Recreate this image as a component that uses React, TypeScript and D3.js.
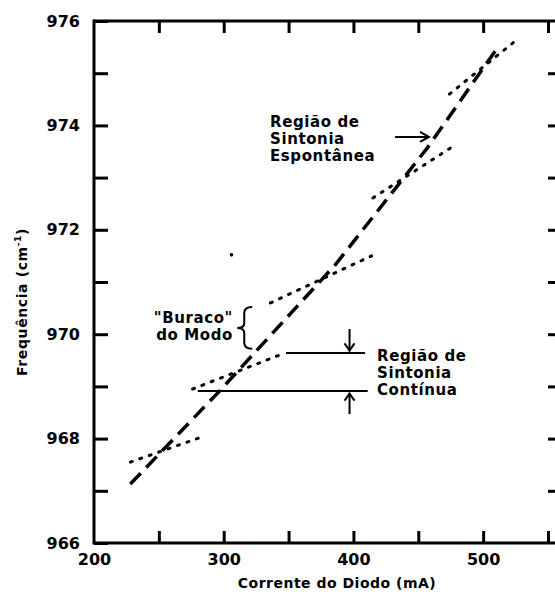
import React, { useRef, useEffect } from 'react'
import * as d3 from 'd3'

// main tuning curve (dashed)
const dashedCurrent = [228, 296, 386, 457, 512]
const dashedFreq = [967.13, 968.89, 971.33, 973.57, 975.52]

// laser modes (dotted segments)
const modeStartCurrent = [228, 276, 336, 415, 474]
const modeEndCurrent = [283, 345, 414, 475, 526]
const modeStartFreq = [967.55, 968.95, 970.6, 972.61, 974.6]
const modeEndFreq = [968.03, 969.62, 971.5, 973.57, 975.64]

// lone point in the scan
const strayCurrent = [306]
const strayFreq = [971.52]

const xTicks = [200, 250, 300, 350, 400, 450, 500, 550]
const xLabels = [200, 300, 400, 500]
const yTicks = [966, 967, 968, 969, 970, 971, 972, 973, 974, 975, 976]
const yLabels = [966, 968, 970, 972, 974, 976]

const W = 555
const H = 592
const FONT = '"DejaVu Sans", Verdana, sans-serif'

const App = () => {
    const svgRef = useRef<SVGSVGElement>(null)

    useEffect(() => {
        const svg = d3.select(svgRef.current)
        svg.selectAll('*').remove()

        const x = d3.scaleLinear().domain([200, 550]).range([94, 548])
        const y = d3.scaleLinear().domain([966, 976]).range([543, 21])

        //frame lines (left, top, bottom)
        const frame = svg.append('g').attr('stroke', '#000').attr('stroke-width', 3)
        frame.append('line').attr('x1', x(200)).attr('x2', x(200)).attr('y1', y(966) + 1.5).attr('y2', y(976) - 1.5)
        frame.append('line').attr('x1', x(200)).attr('x2', W).attr('y1', y(976)).attr('y2', y(976))
        frame.append('line').attr('x1', x(200)).attr('x2', W).attr('y1', y(966)).attr('y2', y(966))

        const styleAxis = (g) => {
            g.select('.domain').remove()
            g.selectAll('line').attr('stroke', '#000').attr('stroke-width', 3)
            g.selectAll('text')
                .style('font-family', FONT)
                .style('font-size', '16px')
                .style('font-weight', 'bold')
                .attr('fill', '#000')
        }

        //left axis
        svg.append('g')
            .attr('transform', `translate(${x(200)},0)`)
            .call(
                d3.axisLeft(y).tickValues(yTicks).tickSize(-14).tickSizeOuter(0).tickPadding(14)
                    .tickFormat((d) => (yLabels.includes(+d) ? String(d) : ''))
            )
            .call(styleAxis)

        //right ticks
        svg.append('g')
            .attr('transform', `translate(${W + 1},0)`)
            .call(d3.axisRight(y).tickValues(yTicks.slice(1, -1)).tickSize(-8).tickFormat(() => ''))
            .call(styleAxis)

        //bottom axis
        svg.append('g')
            .attr('transform', `translate(0,${y(966)})`)
            .call(
                d3.axisBottom(x).tickValues(xTicks.slice(1)).tickSize(-12).tickSizeOuter(0).tickPadding(11)
                    .tickFormat(() => '')
            )
            .call(styleAxis)
        svg.append('g')
            .attr('transform', `translate(0,${y(966)})`)
            .call(
                d3.axisBottom(x).tickValues(xLabels).tickSize(0).tickPadding(11)
                    .tickFormat((d) => String(d))
            )
            .call(styleAxis)

        //top axis
        svg.append('g')
            .attr('transform', `translate(0,${y(976)})`)
            .call(d3.axisTop(x).tickValues(xTicks.slice(1)).tickSize(-12).tickFormat(() => ''))
            .call(styleAxis)

        //axis titles
        svg.append('text')
            .attr('x', 337)
            .attr('y', 588)
            .attr('text-anchor', 'middle')
            .style('font-family', FONT)
            .style('font-size', '14px')
            .style('font-weight', 'bold')
            .style('letter-spacing', '0.5px')
            .text('Corrente do Diodo (mA)')

        const yTitle = svg.append('text')
            .attr('transform', 'translate(27,302) rotate(-90)')
            .attr('text-anchor', 'middle')
            .style('font-family', FONT)
            .style('font-size', '14px')
            .style('font-weight', 'bold')
            .style('letter-spacing', '0.6px')
        yTitle.append('tspan').text('Frequência (cm')
        yTitle.append('tspan').attr('dy', -6).style('font-size', '9px').text('-1')
        yTitle.append('tspan').attr('dy', 6).text(')')

        //dashed tuning line
        const line = d3.line<number>().x((d, i) => x(dashedCurrent[i])).y((d) => y(d))
        svg.append('path')
            .datum(dashedFreq)
            .attr('fill', 'none')
            .attr('stroke', '#000')
            .attr('stroke-width', 3.5)
            .attr('stroke-dasharray', '15 8')
            .attr('d', line)

        //dotted mode segments
        svg.selectAll('.mode')
            .data(modeStartCurrent)
            .enter()
            .append('line')
            .attr('class', 'mode')
            .attr('x1', (d) => x(d))
            .attr('y1', (d, i) => y(modeStartFreq[i]))
            .attr('x2', (d, i) => x(modeEndCurrent[i]))
            .attr('y2', (d, i) => y(modeEndFreq[i]))
            .attr('stroke', '#000')
            .attr('stroke-width', 3)
            .attr('stroke-linecap', 'round')
            .attr('stroke-dasharray', '2 8')

        svg.selectAll('.stray')
            .data(strayCurrent)
            .enter()
            .append('circle')
            .attr('class', 'stray')
            .attr('cx', (d) => x(d))
            .attr('cy', (d, i) => y(strayFreq[i]))
            .attr('r', 1.8)
            .attr('fill', '#000')

        //annotations
        const label = (lines, xPos, yPos, anchor = 'start') => {
            const t = svg.append('text')
                .attr('text-anchor', anchor)
                .style('font-family', FONT)
                .style('font-size', '15px')
                .style('font-weight', 'bold')
                .style('letter-spacing', '0.6px')
            lines.forEach((s, i) => {
                t.append('tspan').attr('x', xPos).attr('y', yPos + i * 17).text(s)
            })
        }
        label(['Região de', 'Sintonia', 'Espontânea'], 270, 127)
        label(['Região de', 'Sintonia', 'Contínua'], 377, 361)
        label(['"Buraco"', 'do Modo'], 233, 323, 'end')

        const ann = svg.append('g').attr('stroke', '#000').attr('stroke-width', 2).attr('fill', 'none')

        //arrow to spontaneous region
        ann.append('line').attr('x1', 395).attr('x2', 428).attr('y1', y(973.78)).attr('y2', y(973.78))
        ann.append('path').attr('d', `M420,${y(973.78) - 5} L429,${y(973.78)} L420,${y(973.78) + 5}`)

        //continuous tuning region lines
        ann.append('line').attr('x1', x(348)).attr('x2', x(409)).attr('y1', y(969.64)).attr('y2', y(969.64))
        ann.append('line').attr('x1', x(280)).attr('x2', x(411)).attr('y1', y(968.91)).attr('y2', y(968.91))
        const ax = x(397)
        ann.append('line').attr('x1', ax).attr('x2', ax).attr('y1', y(970.1)).attr('y2', y(969.67))
        ann.append('path').attr('d', `M${ax - 5},${y(969.67) - 8} L${ax},${y(969.67) - 1} L${ax + 5},${y(969.67) - 8}`)
        ann.append('line').attr('x1', ax).attr('x2', ax).attr('y1', y(968.47)).attr('y2', y(968.88))
        ann.append('path').attr('d', `M${ax - 5},${y(968.88) + 8} L${ax},${y(968.88) + 1} L${ax + 5},${y(968.88) + 8}`)

        //brace for mode hole
        const bx = x(322)
        const bt = y(970.52)
        const bb = y(969.72)
        const bm = (bt + bb) / 2
        ann.append('path')
            .attr('d', `M${bx},${bt} Q${bx - 8},${bt} ${bx - 8},${bt + 6} L${bx - 8},${bm - 5} Q${bx - 8},${bm} ${bx - 15},${bm} Q${bx - 8},${bm} ${bx - 8},${bm + 5} L${bx - 8},${bb - 6} Q${bx - 8},${bb} ${bx},${bb}`)
    }, [])

    return (
        <svg
            ref={svgRef}
            width={W}
            height={H}
            style={{ position: 'absolute', left: 0, top: 0, background: '#fff' }}
        />
    )
}

export default App
